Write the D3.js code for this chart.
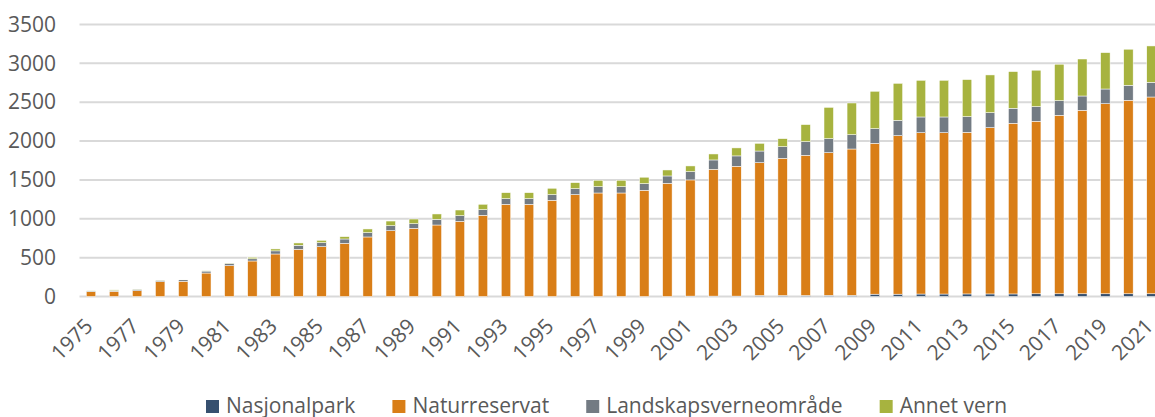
<!DOCTYPE html>
<html>
<head>
<meta charset="utf-8">
<script src="https://cdn.jsdelivr.net/npm/d3@7"></script>
<style>
  body { margin: 0; background: #fff; }
  text { font-family: "Open Sans", "Noto Sans", sans-serif; fill: #595959; }
</style>
</head>
<body>
<div id="chart"></div>
<script>

var years = [1975, 1976, 1977, 1978, 1979, 1980, 1981, 1982, 1983, 1984,
             1985, 1986, 1987, 1988, 1989, 1990, 1991, 1992, 1993, 1994,
             1995, 1996, 1997, 1998, 1999, 2000, 2001, 2002, 2003, 2004,
             2005, 2006, 2007, 2008, 2009, 2010, 2011, 2012, 2013, 2014,
             2015, 2016, 2017, 2018, 2019, 2020, 2021];

var nasjonalpark = [0, 0, 0, 0, 0, 0, 0, 0, 0, 0,
                    0, 0, 0, 0, 0, 0, 0, 0, 0, 0,
                    0, 0, 0, 0, 0, 0, 5, 5, 5, 13,
                    13, 13, 15, 15, 30, 30, 32, 32, 33, 33,
                    33, 35, 35, 35, 35, 35, 35];

var naturreservat = [62, 67, 75, 191, 195, 302, 397, 457, 547, 607,
                     641, 684, 766, 847, 877, 920, 967, 1045, 1186, 1186,
                     1238, 1311, 1332, 1332, 1367, 1457, 1495, 1632, 1671, 1709,
                     1765, 1804, 1836, 1883, 1941, 2040, 2076, 2076, 2080, 2140,
                     2196, 2220, 2297, 2361, 2446, 2490, 2532];

var landskapsvern = [8, 10, 18, 18, 20, 25, 30, 28, 40, 52,
                     52, 56, 56, 64, 60, 73, 73, 73, 73, 73,
                     73, 77, 82, 82, 86, 94, 107, 120, 133, 150,
                     150, 176, 180, 184, 189, 197, 202, 202, 202, 193,
                     193, 189, 189, 184, 189, 193, 189];

var annetVern = [5, 8, 3, 3, 6, 5, 4, 20, 25, 30,
                 30, 30, 47, 60, 60, 69, 73, 69, 77, 77,
                 82, 77, 82, 82, 82, 77, 73, 77, 103, 99,
                 103, 219, 403, 408, 481, 476, 472, 472, 476, 485,
                 472, 468, 468, 476, 468, 464, 468];

var seriesNames = ["Nasjonalpark", "Naturreservat", "Landskapsverneområde", "Annet vern"];
var yTicks = [0, 500, 1000, 1500, 2000, 2500, 3000, 3500];

var colors = ["#36506f", "#d97e17", "#737b83", "#a7b33f"];

var width = 1155, height = 417;
var plot = {left: 79.5, right: 1163, top: 24.5, bottom: 296.5};
var fontSize = 21;

var data = years.map(function(y, i) {
  return {
    year: y,
    "Nasjonalpark": nasjonalpark[i],
    "Naturreservat": naturreservat[i],
    "Landskapsverneområde": landskapsvern[i],
    "Annet vern": annetVern[i]
  };
});

var svg = d3.select("#chart").append("svg")
    .attr("width", width)
    .attr("height", height);

var x = d3.scaleBand()
    .domain(years)
    .range([plot.left, plot.right])
    .paddingInner(0.59)
    .paddingOuter(0.295);

var y = d3.scaleLinear()
    .domain([0, 3500])
    .range([plot.bottom, plot.top]);

var color = d3.scaleOrdinal().domain(seriesNames).range(colors);

// gridlines
svg.append("g")
    .selectAll("line")
    .data(yTicks)
  .join("line")
    .attr("x1", plot.left)
    .attr("x2", width)
    .attr("y1", function(d) { return y(d); })
    .attr("y2", function(d) { return y(d); })
    .attr("stroke", "#d9d9d9")
    .attr("stroke-width", 2);

// y axis labels
var yAxis = d3.axisLeft(y)
    .tickValues(yTicks)
    .tickFormat(d3.format("d"))
    .tickSize(0)
    .tickPadding(0);
svg.append("g")
    .attr("transform", "translate(56,0)")
    .call(yAxis)
    .call(function(g) { g.select(".domain").remove(); })
    .selectAll("text")
    .attr("font-size", fontSize)
    .attr("fill", "#595959")
    .style("font-family", "'Open Sans', sans-serif");

var stacked = d3.stack().keys(seriesNames)(data);

svg.append("g")
    .selectAll("g")
    .data(stacked)
  .join("g")
    .attr("fill", function(d) { return color(d.key); })
  .selectAll("rect")
    .data(function(d) { return d; })
  .join("rect")
    .attr("x", function(d) { return x(d.data.year); })
    .attr("width", x.bandwidth())
    .attr("y", function(d) { return y(d[1]); })
    .attr("height", function(d) { return y(d[0]) - y(d[1]); })
    .attr("stroke", "#fff")
    .attr("stroke-width", 0.5);

// x axis: every second year, rotated
var xAxis = d3.axisBottom(x)
    .tickValues(years.filter(function(d, i) { return i % 2 === 0; }))
    .tickSize(0)
    .tickPadding(0);

var gx = svg.append("g")
    .attr("transform", "translate(0," + plot.bottom + ")")
    .call(xAxis);
gx.select(".domain").remove();
gx.selectAll("text")
    .attr("font-size", fontSize)
    .attr("fill", "#595959")
    .style("font-family", "'Open Sans', sans-serif")
    .attr("text-anchor", "end")
    .attr("dy", null)
    .attr("y", null)
    .attr("transform", "translate(3,31) rotate(-45)");

// legend
var legend = svg.append("g");
var items = legend.selectAll("g")
    .data(seriesNames)
  .join("g");

items.append("rect")
    .attr("y", 0)
    .attr("width", 13)
    .attr("height", 13)
    .attr("fill", function(d) { return color(d); });

items.append("text")
    .attr("x", 20)
    .attr("y", 12.5)
    .attr("font-size", fontSize)
    .text(function(d) { return d; });

var pos = 0, gap = 37;
items.each(function() {
  var w = this.getBBox().width;
  d3.select(this).attr("data-x", pos);
  pos += w + gap;
});
items.attr("transform", function() {
  return "translate(" + (206 + (+this.getAttribute("data-x"))) + ",400)";
});

</script>
</body>
</html>
